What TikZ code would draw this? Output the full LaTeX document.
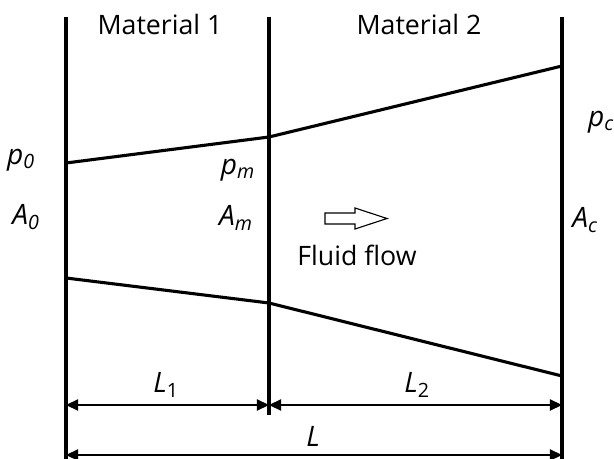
\documentclass[tikz,border=0pt]{standalone}
\usepackage{fontspec}
\setmainfont{Open Sans}
\usetikzlibrary{arrows.meta,positioning}

\begin{document}
\begin{tikzpicture}[x=0.025cm,y=-0.025cm,
    wall/.style={line width=2.2pt},
    dim/.style={line width=0.9pt,
                {Triangle[length=3mm,width=2.8mm]}-{Triangle[length=3mm,width=2.8mm]}},
    lbl/.style={font=\fontsize{20}{24}\selectfont\itshape,inner sep=0pt},
    mat/.style={font=\fontsize{19}{23}\selectfont,inner sep=0pt}]

  \useasboundingbox (0,0) rectangle (614,459);

  % Three walls
  \coordinate (w0t) at (66,17);  \coordinate (w0b) at (66,459);
  \coordinate (wmt) at (269,17); \coordinate (wmb) at (269,415);
  \coordinate (wct) at (562,17); \coordinate (wcb) at (562,459);
  \draw[wall] (w0t) -- (w0b);
  \draw[wall] (wmt) -- (wmb);
  \draw[wall] (wct) -- (wcb);

  % Channel walls
  \coordinate (up0) at (66,163);  \coordinate (upm) at (269,137); \coordinate (upc) at (562,66);
  \coordinate (lo0) at (66,278);  \coordinate (lom) at (269,303); \coordinate (loc) at (562,376);
  \draw[wall] (up0) -- (upm) -- (upc);
  \draw[wall] (lo0) -- (lom) -- (loc);

  % Material names
  \node[mat] (mat1) at (160,24) {Material 1};
  \node[mat] (mat2) at (419,24) {Material 2};

  % Pressures and areas
  \node[lbl] (p0) at (21,160) {p\textsubscript{0}};
  \node[lbl] (a0) at (26,217) {A\textsubscript{0}};
  \node[lbl] (pm) at (238,170) {p\textsubscript{m}};
  \node[lbl] (am) at (236,218) {A\textsubscript{m}};
  \node[lbl] (pc) at (601,122) {p\textsubscript{c}};
  \node[lbl] (ac) at (585,220) {A\textsubscript{c}};

  % Fluid flow arrow
  \coordinate (flow) at (325,213);
  \draw[line width=0.8pt] (flow) -- ++(30,0) -- ++(0,-5) -- ++(32,10.5)
    -- ++(-32,10.5) -- ++(0,-5) -- ++(-30,0) -- cycle;
  \node[mat] (fluid) at (357,255) {Fluid flow};

  % Lengths
  \coordinate (d1a) at (66,405);  \coordinate (d1b) at (269,405);
  \coordinate (d2a) at (269,405); \coordinate (d2b) at (562,405);
  \coordinate (dla) at (66,455);  \coordinate (dlb) at (562,455);
  \draw[dim] (d1a) -- (d1b);
  \draw[dim] (d2a) -- (d2b);
  \draw[dim] (dla) -- (dlb);
  \node[lbl] (l1) at (166,385) {L\textsubscript{\upshape 1}};
  \node[lbl] (l2) at (417,385) {L\textsubscript{\upshape 2}};
  \node[lbl] (l)  at (313,436) {L};

\end{tikzpicture}
\end{document}
